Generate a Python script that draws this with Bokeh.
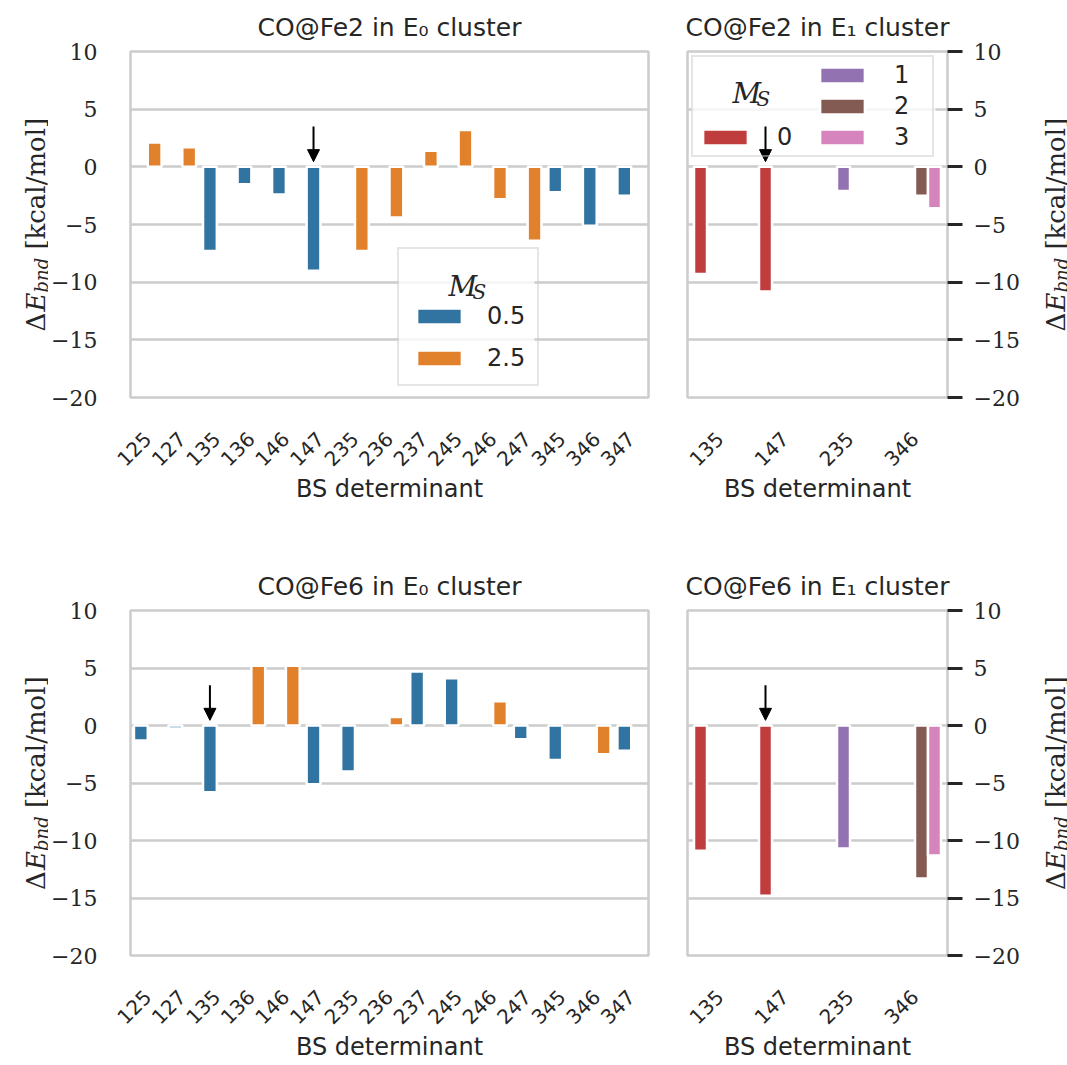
import math
from bokeh.plotting import figure
from bokeh.models import (ColumnDataSource, Range1d, FixedTicker, Legend, LegendItem,
                          Label, Arrow, NormalHead, BoxAnnotation)
from bokeh.transform import dodge
from bokeh.layouts import row, column
from bokeh.embed import file_html
from bokeh.resources import INLINE

# ---------------- data ----------------
cats_e0 = ["125", "127", "135", "136", "146", "147", "235", "236", "237",
           "245", "246", "247", "345", "346", "347"]
fe2_e0_ms = [2.5, 2.5, 0.5, 0.5, 0.5, 0.5, 2.5, 2.5, 2.5, 2.5, 2.5, 2.5, 0.5, 0.5, 0.5]
fe2_e0_de = [2.1, 1.7, -7.3, -1.5, -2.4, -9.0, -7.3, -4.4, 1.4, 3.2, -2.8, -6.4, -2.2, -5.1, -2.5]
fe6_e0_ms = [0.5, 0.5, 0.5, 2.5, 2.5, 0.5, 0.5, 2.5, 0.5, 0.5, 2.5, 0.5, 0.5, 2.5, 0.5]
fe6_e0_de = [-1.3, -0.25, -5.8, 5.2, 5.2, -5.1, -4.0, 0.75, 4.7, 4.1, 2.1, -1.2, -3.0, -2.5, -2.2]

cats_e1 = ["135", "147", "235", "346"]
fe2_e1_cat = ["135", "147", "235", "346", "346"]
fe2_e1_ms = [0, 0, 1, 2, 3]
fe2_e1_de = [-9.3, -10.8, -2.1, -2.5, -3.6]
fe6_e1_cat = ["135", "147", "235", "346", "346"]
fe6_e1_ms = [0, 0, 1, 2, 3]
fe6_e1_de = [-10.9, -14.8, -10.7, -13.3, -11.3]

ms_e0_levels = [0.5, 2.5]
ms_e0_labels = ["0.5", "2.5"]
ms_e1_levels = [0, 1, 2, 3]
ms_e1_labels = ["0", "1", "2", "3"]
pal_e0 = ["#3274a1", "#e1812c"]
pal_e1 = ["#c03d3e", "#9372b2", "#845b53", "#d684bd"]

yticks = [-20, -15, -10, -5, 0, 5, 10]
titles = ["CO@Fe2 in E\u2080 cluster", "CO@Fe2 in E\u2081 cluster",
          "CO@Fe6 in E\u2080 cluster", "CO@Fe6 in E\u2081 cluster"]
xlabel = "BS determinant"
# marked (arrow) bars: (category, M_S)
arrow_fe2_e0 = ("147", 0.5)
arrow_fe2_e1 = ("147", 0)
arrow_fe6_e0 = ("135", 0.5)
arrow_fe6_e1 = ("147", 0)

TXT = "#262626"
SANS = "DejaVu Sans"
SERIF = "DejaVu Serif"

# layout (px)
H_TOP, BT_TOP, FH_TOP = 540, 51, 346
H_BOT, BT_BOT, FH_BOT = 525, 70, 345
YL_L_W, YL_R_W = 48, 35


def label_fig(width, height, xb, yc, fs=26):
    """narrow figure holding a rotated y-axis title  (Delta E_bnd [kcal/mol])"""
    f = figure(width=width, height=height, min_border=0, x_range=Range1d(0, 1),
               y_range=Range1d(0, 1), x_axis_location=None, y_axis_location=None,
               output_backend="svg", toolbar_location=None)
    f.outline_line_color = None
    f.grid.visible = False
    sub = round(fs * 0.7)
    pieces = [("\u0394", "normal", fs, 0, 0.77 * fs),
              ("E", "italic", fs, 0, 0.73 * fs),
              ("bnd", "italic", sub, 0.24 * fs, 1.92 * sub + 0.32 * fs),
              ("[kcal/mol]", "normal", fs, 0, 5.08 * fs)]
    total = sum(pc[4] for pc in pieces)
    y = yc - total / 2
    for text, style, size, dx, w in pieces:
        f.add_layout(Label(x=xb + dx, y=y, x_units="screen", y_units="screen", text=text,
                           angle=math.pi / 2, text_align="left", text_baseline="alphabetic",
                           text_font=SERIF, text_font_style=style,
                           text_font_size=f"{size}px", text_color=TXT))
        y += w
    return f


def add_ms_title(p, x, y, fs=28):
    p.add_layout(Label(x=x, y=y, x_units="screen", y_units="screen", text="M",
                       text_baseline="alphabetic", text_font=SERIF, text_font_style="italic",
                       text_font_size=f"{fs}px", text_color=TXT))
    p.add_layout(Label(x=x + 0.86 * fs, y=y - 0.2 * fs, x_units="screen", y_units="screen",
                       text="S", text_baseline="alphabetic", text_font=SERIF,
                       text_font_style="italic", text_font_size=f"{round(fs*0.7)}px",
                       text_color=TXT))


def legend_bg(p, left, bottom, w, h):
    p.add_layout(BoxAnnotation(left=left, right=left + w, bottom=bottom, top=bottom + h,
                               left_units="screen", right_units="screen",
                               bottom_units="screen", top_units="screen",
                               fill_color="white", fill_alpha=0.8, line_color=None))


def add_arrow(p, cats, levels, arrow):
    slot = 0.8 / len(levels)
    a_cat, a_ms = arrow
    k = levels.index(a_ms)
    xa = cats.index(a_cat) + 0.5 + (-0.4 + slot * (k + 0.5))
    p.add_layout(Arrow(end=NormalHead(size=12, fill_color="black", line_color="black", line_width=1),
                       x_start=xa, y_start=3.5, x_end=xa, y_end=0.45,
                       line_color="black", line_width=2))


def make_panel(title, cats, bar_cat, bar_ms, bar_de, levels, palette, side,
               fw, fh, bl, br, bt, bb):
    n_h = len(levels)
    slot = 0.8 / n_h
    p = figure(x_range=cats, y_range=Range1d(-20, 10), width=bl + fw + br, height=bt + fh + bb,
               min_border_left=bl, min_border_right=br, min_border_top=bt, min_border_bottom=bb,
               y_axis_location=side, output_backend="svg", toolbar_location=None, title=title)
    renderers = []
    for k, lev in enumerate(levels):
        idx = [i for i, m in enumerate(bar_ms) if m == lev]
        src = ColumnDataSource(dict(cat=[bar_cat[i] for i in idx], de=[bar_de[i] for i in idx]))
        off = -0.4 + slot * (k + 0.5)
        r = p.vbar(x=dodge("cat", off, range=p.x_range), top="de", bottom=0, width=slot,
                   source=src, fill_color=palette[k], line_color="white", line_width=2.5)
        renderers.append(r)
    # styling
    p.background_fill_color = "white"
    p.border_fill_color = "white"
    p.outline_line_color = "#cccccc"
    p.outline_line_width = 2.5
    p.xgrid.grid_line_color = None
    p.ygrid.ticker = FixedTicker(ticks=yticks)
    p.ygrid.grid_line_color = "#cccccc"
    p.ygrid.grid_line_width = 2.5
    p.title.text_font = SANS
    p.title.text_font_size = "25px"
    p.title.text_font_style = "normal"
    p.title.text_color = TXT
    p.title.align = "center"
    p.title.standoff = 20

    xa_ = p.xaxis[0]
    xa_.axis_line_color = None
    xa_.major_tick_line_color = None
    xa_.minor_tick_line_color = None
    xa_.major_label_orientation = math.pi / 4
    xa_.major_label_text_font = SANS
    xa_.major_label_text_font_size = "20px"
    xa_.major_label_text_color = TXT
    xa_.major_label_standoff = 32
    xa_.axis_label = xlabel
    xa_.axis_label_text_font = SANS
    xa_.axis_label_text_font_size = "24px"
    xa_.axis_label_text_font_style = "normal"
    xa_.axis_label_text_color = TXT
    xa_.axis_label_standoff = 0

    ya = p.yaxis[0]
    ya.ticker = FixedTicker(ticks=yticks)
    ya.major_label_overrides = {t: str(t).replace("-", "\u2212") for t in yticks}
    ya.axis_line_color = None
    ya.minor_tick_line_color = None
    ya.major_label_text_font = SERIF
    ya.major_label_text_font_size = "22px"
    ya.major_label_text_color = TXT
    if side == "left":
        ya.major_tick_line_color = None
        ya.major_label_standoff = 27
    else:
        ya.major_tick_line_color = TXT
        ya.major_tick_line_width = 3
        ya.major_tick_out = 15
        ya.major_tick_in = 0
        ya.major_label_standoff = 11
    return p, renderers


def style_legend(leg):
    leg.label_text_font = SANS
    leg.label_text_font_size = "24px"
    leg.label_text_color = TXT
    leg.glyph_width = 56
    leg.glyph_height = 20
    leg.border_line_color = "#cccccc"
    leg.border_line_width = 2
    leg.background_fill_alpha = 0.0


# top-left
p1, r1 = make_panel(titles[0], cats_e0, cats_e0, fe2_e0_ms, fe2_e0_de, ms_e0_levels, pal_e0,
                    "left", 520, FH_TOP, 128 - YL_L_W, 20, BT_TOP, H_TOP - BT_TOP - FH_TOP)
legend_bg(p1, 268, 12, 136, 134)
add_ms_title(p1, 318, 111)
add_arrow(p1, cats_e0, ms_e0_levels, arrow_fe2_e0)
leg1 = Legend(items=[LegendItem(label=ms_e0_labels[i], renderers=[r1[i]]) for i in range(2)],
              location=(267, 11), title=" ", title_text_font_size="26px", title_standoff=10,
              label_standoff=20, label_width=34, spacing=14, padding=12)
style_legend(leg1)
p1.add_layout(leg1)

# top-right
p2, r2 = make_panel(titles[1], cats_e1, fe2_e1_cat, fe2_e1_ms, fe2_e1_de, ms_e1_levels, pal_e1,
                    "right", 260, FH_TOP, 19, 1067 - YL_R_W - 947, BT_TOP,
                    H_TOP - BT_TOP - FH_TOP)
legend_bg(p2, 4, FH_TOP - 105, 244, 100)
add_ms_title(p2, 45, 304)
add_arrow(p2, cats_e1, ms_e1_levels, arrow_fe2_e1)
dummy = p2.vbar(x=[], top=[], width=0.2, fill_alpha=0, line_alpha=0)
items2 = [LegendItem(label=" ", renderers=[dummy]), LegendItem(label=" ", renderers=[dummy])]
items2 += [LegendItem(label=ms_e1_labels[i], renderers=[r2[i]]) for i in range(4)]
leg2 = Legend(items=items2, location="top_left", margin=4, orientation="vertical", nrows=3,
              label_standoff=24, label_width=34, spacing=3, padding=4)
style_legend(leg2)
p2.add_layout(leg2)

# bottom-left
p3, _ = make_panel(titles[2], cats_e0, cats_e0, fe6_e0_ms, fe6_e0_de, ms_e0_levels, pal_e0,
                   "left", 520, FH_BOT, 128 - YL_L_W, 20, BT_BOT, H_BOT - BT_BOT - FH_BOT)
add_arrow(p3, cats_e0, ms_e0_levels, arrow_fe6_e0)
# bottom-right
p4, _ = make_panel(titles[3], cats_e1, fe6_e1_cat, fe6_e1_ms, fe6_e1_de, ms_e1_levels, pal_e1,
                   "right", 260, FH_BOT, 19, 1067 - YL_R_W - 947, BT_BOT,
                   H_BOT - BT_BOT - FH_BOT)
add_arrow(p4, cats_e1, ms_e1_levels, arrow_fe6_e1)

# y-axis titles (narrow canvases; their frames are aligned with the panels' frames)
yl1 = label_fig(YL_L_W, H_TOP, 35, FH_TOP / 2)
yl2 = label_fig(YL_R_W, H_TOP, 23, FH_TOP / 2)
yl3 = label_fig(YL_L_W, H_BOT, 35, FH_BOT / 2)
yl4 = label_fig(YL_R_W, H_BOT, 23, FH_BOT / 2)

layout = column(row(yl1, p1, p2, yl2), row(yl3, p3, p4, yl4))
open("out.html", "w").write(file_html(layout, INLINE))
